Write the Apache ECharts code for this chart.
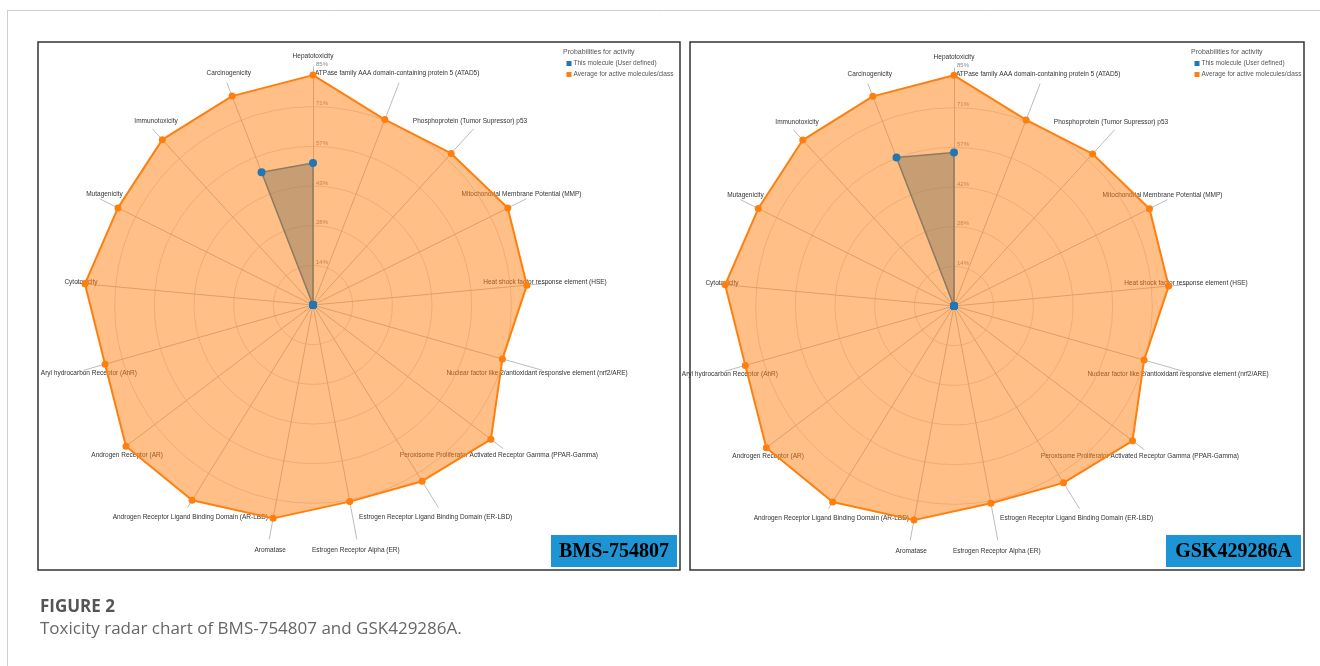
<!DOCTYPE html>
<html>
<head>
<meta charset="utf-8">
<script src="https://cdn.jsdelivr.net/npm/echarts@6/dist/echarts.min.js"></script>
<style>
html,body{margin:0;padding:0;background:#fff;}
#chart{width:1320px;height:666px;}
</style>
</head>
<body>
<div id="chart"></div>
<script>
// Toxicity end points, listed counter-clockwise starting at the top axis
const endpoints = [
  'Hepatotoxicity',
  'Carcinogenicity',
  'Immunotoxicity',
  'Mutagenicity',
  'Cytotoxicity',
  'Aryl hydrocarbon Receptor (AhR)',
  'Androgen Receptor (AR)',
  'Androgen Receptor Ligand Binding Domain (AR-LBD)',
  'Aromatase',
  'Estrogen Receptor Alpha (ER)',
  'Estrogen Receptor Ligand Binding Domain (ER-LBD)',
  'Peroxisome Proliferator Activated Receptor Gamma (PPAR-Gamma)',
  'Nuclear factor like 2/antioxidant responsive element (nrf2/ARE)',
  'Heat shock factor response element (HSE)',
  'Mitochondrial Membrane Potential (MMP)',
  'Phosphoprotein (Tumor Supressor) p53',
  'ATPase family AAA domain-containing protein 5 (ATAD5)'
];

// Average probability of activity (%) for active molecules of each class
const classAverage = [82.3, 80.2, 80.1, 78.0, 82.0, 77.4, 83.9, 82.2, 77.7, 71.6, 74.2, 79.8, 70.5, 76.9, 77.9, 73.4, 71.2];

// Probability of activity (%) for each compound
const bmsValues = [50.8, 51.0, 0, 0, 0, 0, 0, 0, 0, 0, 0, 0, 0, 0, 0, 0, 0];
const gskValues = [54.8, 56.8, 0, 0, 0, 0, 0, 0, 0, 0, 0, 0, 0, 0, 0, 0, 0];

const compounds = ['BMS-754807', 'GSK429286A'];
const compoundValues = [bmsValues, gskValues];
// Outer ring value of each radar scale (%)
const scaleMax = [85.2, 84.9];

const legendTitle = 'Probabilities for activity';
const moleculeName = 'This molecule (User defined)';
const averageName = 'Average for active molecules/class';
const figureLabel = 'FIGURE 2';
const figureCaption = 'Toxicity radar chart of BMS-754807 and GSK429286A.';

// ---- layout / style ----
const centers = [[313, 305], [954, 306]];
const radius = 238;
const BLUE = '#1f77b4';
const ORANGE = '#ff7f0e';
const labelFont = '"Liberation Sans", Arial, sans-serif';

const chart = echarts.init(document.getElementById('chart'), null, {renderer: 'canvas'});

const radars = compounds.map((c, k) => ({
  center: centers[k],
  radius: radius,
  startAngle: 90,
  shape: 'circle',
  splitNumber: 6,
  indicator: endpoints.map((name, i) => {
    const ind = {name: name, min: 0, max: scaleMax[k]};
    if (i === 0) ind.axisLabel = {show: true};
    return ind;
  }),
  axisName: {show: false},
  axisLine: {lineStyle: {color: '#bcbcbc', width: 1}},
  axisTick: {show: false},
  splitLine: {lineStyle: {color: ['#dadada', '#dadada', '#dadada', '#dadada', '#dadada', '#dadada', 'rgba(0,0,0,0)'], width: 1}},
  splitArea: {show: false},
  axisLabel: {
    show: false,
    fontSize: 6,
    fontFamily: labelFont,
    color: '#8a8a8a',
    margin: -3,
    align: 'left',
    verticalAlign: 'bottom',
    formatter: v => (v < 0.5 ? '' : Math.round(v) + '%')
  }
}));

const series = [];
compounds.forEach((c, k) => {
  const n = endpoints.length;
  // end point names, placed just outside the tip of every axis
  series.push({
    type: 'radar', radarIndex: k, z: 1, silent: true,
    symbol: 'circle', symbolSize: 0.1,
    itemStyle: {color: 'rgba(0,0,0,0)'},
    lineStyle: {width: 0, opacity: 0},
    emphasis: {disabled: true},
    data: endpoints.map((name, i) => {
      const phi = (90 + i * 360 / n) * Math.PI / 180;
      return {
        name: name,
        value: endpoints.map((_, j) => (j === i ? scaleMax[k] : 0)),
        label: {
          show: true,
          position: 'inside',
          offset: [-5 * Math.cos(phi), -11 * Math.sin(phi)],
          fontSize: 6.5,
          fontFamily: labelFont,
          color: '#333',
          formatter: p => (p.value > 0 ? p.name : '')
        }
      };
    })
  });
  // compound polygon (under the class average)
  series.push({
    name: moleculeName, type: 'radar', radarIndex: k, z: 2, silent: true,
    symbol: 'none',
    itemStyle: {color: BLUE},
    lineStyle: {color: BLUE, width: 1.5},
    areaStyle: {color: BLUE, opacity: 0.5},
    emphasis: {disabled: true},
    data: [{name: moleculeName, value: compoundValues[k]}]
  });
  // class average polygon
  series.push({
    name: averageName, type: 'radar', radarIndex: k, z: 3, silent: true,
    symbol: 'circle', symbolSize: 7,
    itemStyle: {color: ORANGE},
    lineStyle: {color: ORANGE, width: 2},
    areaStyle: {color: ORANGE, opacity: 0.5},
    emphasis: {disabled: true},
    data: [{name: averageName, value: classAverage}]
  });
  // compound points drawn on top
  series.push({
    name: moleculeName, type: 'radar', radarIndex: k, z: 4, silent: true,
    symbol: 'circle', symbolSize: 8,
    itemStyle: {color: BLUE},
    lineStyle: {width: 0, opacity: 0},
    emphasis: {disabled: true},
    data: [{name: moleculeName, value: compoundValues[k]}]
  });
});

const legendLeft = [561.5, 1189.5];
const panels = [[38, 42, 642, 528], [690, 42, 614, 528]];
const badges = [[551, 535, 126, 32], [1166, 535, 135, 32]];

const graphic = [
  {type: 'line', shape: {x1: 7, y1: 10.5, x2: 1320, y2: 10.5}, style: {stroke: '#cfcfcf', lineWidth: 1}},
  {type: 'line', shape: {x1: 7.5, y1: 10, x2: 7.5, y2: 666}, style: {stroke: '#cfcfcf', lineWidth: 1}},
  {type: 'text', left: 40, top: 599, style: {text: figureLabel, font: 'bold 17px "Open Sans", "Noto Sans", sans-serif', fill: '#555'}},
  {type: 'text', left: 40, top: 621, style: {text: figureCaption, font: '17px "Open Sans", "Noto Sans", sans-serif', fill: '#666'}}
];
panels.forEach(p => graphic.push({
  type: 'rect', z: 10, shape: {x: p[0], y: p[1], width: p[2], height: p[3]},
  style: {fill: 'none', stroke: '#333', lineWidth: 1.5}
}));
badges.forEach((b, k) => graphic.push({
  type: 'group', z: 10,
  children: [
    {type: 'rect', shape: {x: b[0], y: b[1], width: b[2], height: b[3]}, style: {fill: '#1d95d5'}},
    {type: 'text', x: b[0] + b[2] / 2, y: b[1] + b[3] / 2 + 1,
     style: {text: compounds[k], font: 'bold 20px "Liberation Serif", "Times New Roman", serif', fill: '#000', align: 'center', verticalAlign: 'middle'}}
  ]
}));

chart.setOption({
  animation: false,
  title: compounds.map((c, k) => ({
    text: legendTitle, left: legendLeft[k] - 3.5, top: 44,
    textStyle: {fontSize: 7, fontWeight: 'normal', color: '#555', fontFamily: labelFont}
  })),
  legend: compounds.map((c, k) => ({
    data: [moleculeName, averageName],
    orient: 'vertical',
    left: legendLeft[k], top: 55,
    icon: 'rect', itemWidth: 5, itemHeight: 5, itemGap: 4,
    selectedMode: false,
    textStyle: {fontSize: 6.5, color: '#555', fontFamily: labelFont, padding: [0, 0, 0, -3]}
  })),
  radar: radars,
  series: series,
  graphic: graphic
});
</script>
</body>
</html>
